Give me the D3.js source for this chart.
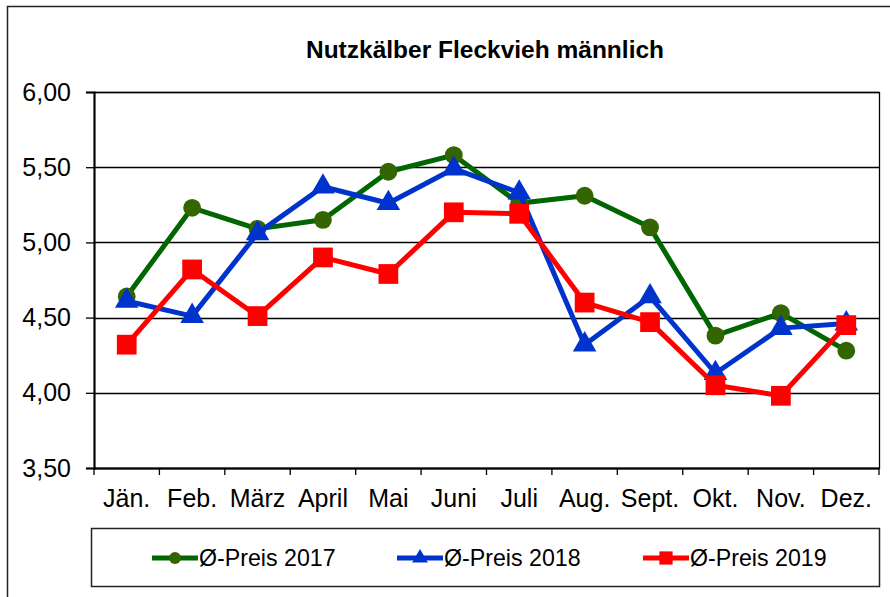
<!DOCTYPE html>
<html>
<head>
<meta charset="utf-8">
<script src="https://cdn.jsdelivr.net/npm/d3@7"></script>
<style>
  body { margin: 0; background: #fff; }
  svg { display: block; font-family: "Liberation Sans", Arial, sans-serif; }
</style>
</head>
<body>
<div id="chart"></div>
<script>
// Monate
var months = ['Jän.', 'Feb.', 'März', 'April', 'Mai', 'Juni', 'Juli', 'Aug.', 'Sept.', 'Okt.', 'Nov.', 'Dez.'];

// Ø-Preise je Jahr
var preis2017 = [4.64, 5.23, 5.09, 5.15, 5.47, 5.58, 5.26, 5.31, 5.10, 4.38, 4.53, 4.28];
var preis2018 = [4.61, 4.51, 5.06, 5.37, 5.26, 5.49, 5.33, 4.32, 4.64, 4.13, 4.43, 4.46];
var preis2019 = [4.32, 4.82, 4.51, 4.90, 4.79, 5.20, 5.19, 4.60, 4.47, 4.05, 3.98, 4.45];

var yTicks = [3.5, 4.0, 4.5, 5.0, 5.5, 6.0];

var seriesNames = ['Ø-Preis 2017', 'Ø-Preis 2018', 'Ø-Preis 2019'];

var width = 890;
var height = 597;
// Plotbereich
var margin = { top: 92, left: 94 };
var w = 879 - margin.left;
var h = 468 - margin.top;

var series = [
  { name: seriesNames[0], values: preis2017, line: '#006600', fill: '#336600', symbol: d3.symbolCircle, size: 250 },
  { name: seriesNames[1], values: preis2018, line: '#0033cc', fill: '#0033cc', symbol: d3.symbolTriangle, size: 240 },
  { name: seriesNames[2], values: preis2019, line: '#ff0000', fill: '#ff0000', symbol: d3.symbolSquare, size: 390 }
];

var svg = d3.select('#chart').append('svg')
  .attr('width', width)
  .attr('height', height);

// äußerer Rahmen (rechts und unten abgeschnitten)
svg.append('rect')
  .attr('x', 7.5).attr('y', 6.5)
  .attr('width', 900).attr('height', 610)
  .attr('fill', '#fff')
  .attr('stroke', '#222')
  .attr('stroke-width', 1.5);

svg.append('text')
  .attr('x', 485).attr('y', 58)
  .attr('text-anchor', 'middle')
  .attr('font-size', 24.5)
  .attr('font-weight', 'bold')
  .text('Nutzkälber Fleckvieh männlich');

var x = d3.scaleBand().domain(months).range([0, w]);
var y = d3.scaleLinear().domain([3.5, 6.0]).range([h, 0]);

var g = svg.append('g')
  .attr('transform', 'translate(' + margin.left + ',' + margin.top + ')');

// Gitterlinien
g.selectAll('.grid').data(yTicks)
  .enter().append('line')
  .attr('x1', 0).attr('x2', w)
  .attr('y1', function(d) { return Math.round(y(d)) + 0.5; })
  .attr('y2', function(d) { return Math.round(y(d)) + 0.5; })
  .attr('stroke', '#000')
  .attr('stroke-width', 1.3);

g.append('rect')
  .attr('x', 0.5).attr('y', 0.5)
  .attr('width', w).attr('height', h)
  .attr('fill', 'none')
  .attr('stroke', '#000')
  .attr('stroke-width', 1.3);

// y-Achse
var yAxis = g.append('g')
  .call(d3.axisLeft(y).tickValues(yTicks).tickSize(8).tickPadding(15)
    .tickFormat(function(d) { return d3.format('.2f')(d).replace('.', ','); }));
yAxis.select('.domain').attr('stroke-width', 2);
yAxis.selectAll('line').attr('stroke-width', 1.3);
yAxis.selectAll('text').attr('font-size', 25).attr('fill', '#000')
  .attr('font-family', '"Liberation Sans", Arial, sans-serif');

// x-Achse
var xTickScale = d3.scaleLinear().domain([0, months.length]).range([0, w]);
var xAxis = g.append('g')
  .attr('transform', 'translate(0,' + h + ')');
xAxis.append('line').attr('x1', 0).attr('x2', w).attr('y1', 0.5).attr('y2', 0.5)
  .attr('stroke', '#000').attr('stroke-width', 2);
xAxis.selectAll('.xt').data(d3.range(months.length + 1))
  .enter().append('line')
  .attr('x1', function(d) { return xTickScale(d); })
  .attr('x2', function(d) { return xTickScale(d); })
  .attr('y1', 0).attr('y2', 7)
  .attr('stroke', '#000').attr('stroke-width', 1.3);
xAxis.selectAll('.xl').data(months)
  .enter().append('text')
  .attr('x', function(d) { return x(d) + x.bandwidth() / 2; })
  .attr('y', 39)
  .attr('text-anchor', 'middle')
  .attr('font-size', 25)
  .text(function(d) { return d; });

var line = d3.line()
  .x(function(d, i) { return x(months[i]) + x.bandwidth() / 2; })
  .y(function(d) { return y(d); });

series.forEach(function(s) {
  var sg = g.append('g');
  sg.append('path')
    .datum(s.values)
    .attr('d', line)
    .attr('fill', 'none')
    .attr('stroke', s.line)
    .attr('stroke-width', 5)
    .attr('stroke-linejoin', 'round');
  sg.selectAll('.pt').data(s.values)
    .enter().append('path')
    .attr('d', d3.symbol().type(s.symbol).size(s.size))
    .attr('transform', function(d, i) {
      return 'translate(' + (x(months[i]) + x.bandwidth() / 2) + ',' + y(d) + ')';
    })
    .attr('fill', s.fill);
});

// Legende
var legend = svg.append('g');
legend.append('rect')
  .attr('x', 91.5).attr('y', 528.5)
  .attr('width', 788).attr('height', 58)
  .attr('fill', '#fff')
  .attr('stroke', '#222')
  .attr('stroke-width', 1.5);

var legendX = [152, 397, 643];
series.forEach(function(s, i) {
  var lx = legendX[i];
  legend.append('line')
    .attr('x1', lx).attr('x2', lx + 46)
    .attr('y1', 558).attr('y2', 558)
    .attr('stroke', s.line).attr('stroke-width', 5);
  legend.append('path')
    .attr('d', d3.symbol().type(s.symbol).size(s.size * 0.45))
    .attr('transform', 'translate(' + (lx + 23) + ',558)')
    .attr('fill', s.fill);
  legend.append('text')
    .attr('x', lx + 47).attr('y', 566)
    .attr('font-size', 23.2)
    .text(s.name);
});
</script>
</body>
</html>
